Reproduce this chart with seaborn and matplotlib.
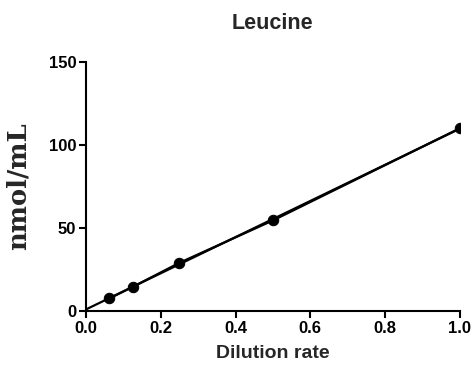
import matplotlib
matplotlib.use("Agg")
import matplotlib.pyplot as plt
import seaborn as sns
import pandas as pd

dilution = [0.0625, 0.125, 0.25, 0.5, 1.0]
conc = [7.5, 14.5, 29.0, 54.5, 110.0]
x_ticks = [0.0, 0.2, 0.4, 0.6, 0.8, 1.0]
y_ticks = [0, 50, 100, 150]

sns.set_style("ticks")
plt.rcParams['font.family'] = ['Liberation Sans', 'DejaVu Sans']

df = pd.DataFrame({"Dilution rate": dilution, "nmol/mL": conc})

fig = plt.figure(figsize=(4.75, 3.82), dpi=100)
ax = fig.add_axes([0.181, 0.186, 0.787, 0.652])
ax.set_xlim(0, 1.0)
ax.set_ylim(0, 150)

sns.regplot(data=df, x="Dilution rate", y="nmol/mL", ci=None, truncate=False,
            scatter=False, color="black", line_kws={"lw": 1.6}, ax=ax)
sns.lineplot(data=df, x="Dilution rate", y="nmol/mL", color="black", lw=1.6,
             marker="o", markersize=7.5, markeredgecolor="black", ax=ax)

ax.set_xlim(0, 1.0)
ax.set_ylim(0, 150)
ax.set_xticks(x_ticks)
ax.set_xticklabels([f"{t:.1f}" for t in x_ticks], fontweight="bold", fontsize=12)
ax.set_yticks(y_ticks)
ax.set_yticklabels([str(t) for t in y_ticks], fontweight="bold", fontsize=12)
ax.tick_params(direction="out", width=1.5, length=5, pad=2, colors="black")
for s in ["top", "right"]:
    ax.spines[s].set_visible(False)
for s in ["left", "bottom"]:
    ax.spines[s].set_linewidth(1.5)
    ax.spines[s].set_color("black")

ax.set_title("Leucine", fontweight="bold", fontsize=15.5, pad=24)
ax.set_xlabel("Dilution rate", fontweight="bold", fontsize=14, labelpad=7)
ax.set_ylabel("nmol/mL", fontweight="bold", fontsize=18.5,
              family=["DejaVu Serif"], labelpad=13)

fig.savefig("out.png", dpi=100)
